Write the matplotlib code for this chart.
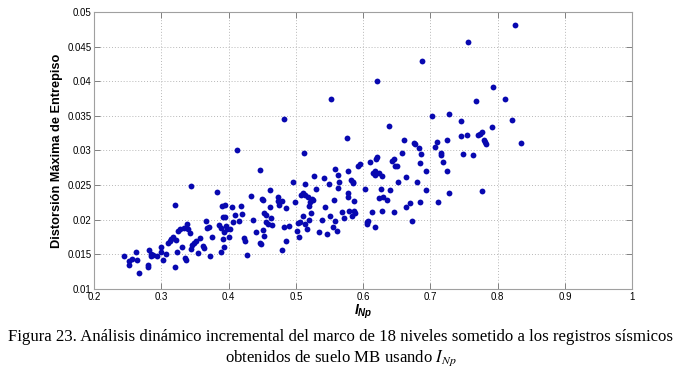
import matplotlib
matplotlib.use("Agg")
import matplotlib.pyplot as plt

x_inp = [0.245,0.252,0.252,0.257,0.263,0.264,0.267,0.280,0.280,0.282,0.284,0.285,0.288,0.293,0.300,0.300,0.303,0.307,0.310,0.313,
         0.315,0.317,0.320,0.320,0.322,0.323,0.325,0.327,0.330,0.333,0.335,0.337,0.338,0.339,0.342,0.344,0.344,0.345,0.349,0.351,
         0.354,0.358,0.362,0.364,0.367,0.368,0.371,0.373,0.375,0.383,0.385,0.388,0.389,0.390,0.391,0.391,0.393,0.393,0.394,0.395,
         0.396,0.398,0.401,0.402,0.405,0.407,0.410,0.413,0.415,0.419,0.420,0.423,0.424,0.427,0.433,0.436,0.440,0.446,0.447,0.448,
         0.450,0.451,0.451,0.453,0.453,0.455,0.456,0.458,0.461,0.462,0.463,0.464,0.473,0.474,0.475,0.480,0.480,0.482,0.483,0.485,
         0.486,0.489,0.496,0.499,0.502,0.503,0.504,0.506,0.508,0.510,0.511,0.512,0.513,0.514,0.514,0.516,0.518,0.519,0.520,0.521,
         0.522,0.524,0.525,0.527,0.530,0.534,0.539,0.542,0.543,0.546,0.549,0.551,0.552,0.555,0.556,0.558,0.558,0.561,0.562,0.563,
         0.564,0.568,0.571,0.576,0.577,0.578,0.578,0.579,0.582,0.583,0.585,0.585,0.587,0.587,0.588,0.593,0.595,0.603,0.605,0.606,
         0.607,0.610,0.613,0.615,0.617,0.617,0.618,0.619,0.620,0.620,0.624,0.624,0.627,0.628,0.628,0.630,0.636,0.639,0.640,0.643,
         0.646,0.646,0.648,0.650,0.652,0.657,0.660,0.663,0.664,0.669,0.672,0.675,0.677,0.680,0.683,0.685,0.685,0.686,0.688,0.694,
         0.694,0.703,0.707,0.710,0.711,0.715,0.716,0.718,0.724,0.725,0.727,0.727,0.745,0.745,0.749,0.754,0.756,0.764,0.768,0.771,
         0.774,0.776,0.776,0.779,0.781,0.782,0.791,0.793,0.811,0.822,0.826,0.834]
y_drift = [0.0147,0.0134,0.0141,0.0143,0.0154,0.0142,0.0123,0.0134,0.0132,0.0156,0.0151,0.0148,0.0149,0.0148,0.0160,0.0154,0.0142,0.0150,0.0166,0.0169,
           0.0172,0.0175,0.0132,0.0221,0.0171,0.0153,0.0183,0.0186,0.0161,0.0188,0.0145,0.0142,0.0194,0.0187,0.0181,0.0248,0.0158,0.0163,0.0166,0.0170,
           0.0152,0.0173,0.0162,0.0159,0.0198,0.0188,0.0189,0.0147,0.0175,0.0240,0.0193,0.0188,0.0153,0.0220,0.0172,0.0204,0.0182,0.0160,0.0221,0.0204,
           0.0191,0.0186,0.0175,0.0187,0.0218,0.0196,0.0207,0.0300,0.0198,0.0220,0.0208,0.0173,0.0169,0.0149,0.0234,0.0200,0.0182,0.0166,0.0272,0.0165,
           0.0230,0.0229,0.0185,0.0177,0.0210,0.0207,0.0197,0.0194,0.0243,0.0218,0.0202,0.0192,0.0227,0.0233,0.0221,0.0156,0.0227,0.0345,0.0189,0.0169,
           0.0217,0.0191,0.0254,0.0225,0.0183,0.0195,0.0175,0.0196,0.0236,0.0205,0.0238,0.0297,0.0235,0.0194,0.0252,0.0186,0.0233,0.0220,0.0199,0.0225,
           0.0210,0.0230,0.0228,0.0263,0.0244,0.0182,0.0199,0.0260,0.0218,0.0179,0.0251,0.0205,0.0374,0.0190,0.0229,0.0198,0.0273,0.0183,0.0246,0.0265,
           0.0255,0.0211,0.0203,0.0318,0.0238,0.0271,0.0233,0.0212,0.0258,0.0205,0.0255,0.0253,0.0227,0.0212,0.0209,0.0277,0.0280,0.0245,0.0197,0.0194,
           0.0198,0.0284,0.0211,0.0268,0.0271,0.0190,0.0264,0.0288,0.0400,0.0291,0.0267,0.0232,0.0245,0.0263,0.0212,0.0233,0.0228,0.0336,0.0243,0.0285,
           0.0287,0.0211,0.0278,0.0277,0.0255,0.0297,0.0315,0.0262,0.0218,0.0224,0.0198,0.0311,0.0310,0.0254,0.0304,0.0282,0.0225,0.0295,0.0429,0.0271,
           0.0243,0.0350,0.0305,0.0312,0.0225,0.0296,0.0293,0.0284,0.0271,0.0315,0.0353,0.0239,0.0342,0.0321,0.0295,0.0322,0.0456,0.0294,0.0371,0.0322,
           0.0324,0.0326,0.0242,0.0315,0.0312,0.0310,0.0334,0.0391,0.0375,0.0344,0.0481,0.0311]

x_ticks = [0.2, 0.3, 0.4, 0.5, 0.6, 0.7, 0.8, 0.9, 1.0]
x_ticklabels = ["0.2", "0.3", "0.4", "0.5", "0.6", "0.7", "0.8", "0.9", "1"]
y_ticks = [0.01, 0.015, 0.02, 0.025, 0.03, 0.035, 0.04, 0.045, 0.05]
y_ticklabels = ["0.01", "0.015", "0.02", "0.025", "0.03", "0.035", "0.04", "0.045", "0.05"]

plt.rcParams['font.family'] = ['Liberation Sans', 'DejaVu Sans']
plt.rcParams['mathtext.fontset'] = 'custom'
plt.rcParams['mathtext.it'] = 'Liberation Sans:bold:italic'
plt.rcParams['mathtext.rm'] = 'Liberation Sans:bold'
plt.rcParams['mathtext.bf'] = 'Liberation Sans:bold'

fig = plt.figure(figsize=(6.82, 3.79), dpi=100)
ax = fig.add_axes([0.138, 0.2375, 0.789, 0.731])
ax.plot(x_inp, y_drift, linestyle='none', marker='o', markersize=4.2,
        color='#0808b0', markeredgewidth=0, zorder=3)
ax.set_xlim(0.2, 1.0)
ax.set_ylim(0.01, 0.05)
ax.set_xticks(x_ticks)
ax.set_xticklabels(x_ticklabels)
ax.set_yticks(y_ticks)
ax.set_yticklabels(y_ticklabels)
ax.grid(True, linestyle=(0, (1, 2)), color='#b8b8b8', linewidth=0.7)
for s in ax.spines.values():
    s.set_color('#a0a0a0')
    s.set_linewidth(0.8)
ax.tick_params(direction='in', length=4, width=0.7, color='#808080',
               labelsize=7, pad=2, top=True, right=True)
ax.set_ylabel('Distorsión Máxima de Entrepiso', fontsize=9.2, fontweight='bold', labelpad=3)
ax.set_xlabel(r'$I_{Np}$', fontsize=10, labelpad=1)

fig.text(0.5, 0.111, 'Figura 23. Análisis dinámico incremental del marco de 18 niveles sometido a los registros sísmicos',
         ha='center', va='center', fontsize=12.1, family='Liberation Serif')
fig.text(0.5, 0.055, r'obtenidos de suelo MB usando $I_{Np}$',
         ha='center', va='center', fontsize=12.1, family='Liberation Serif', math_fontfamily='stix')

fig.savefig('out.png', dpi=100)
